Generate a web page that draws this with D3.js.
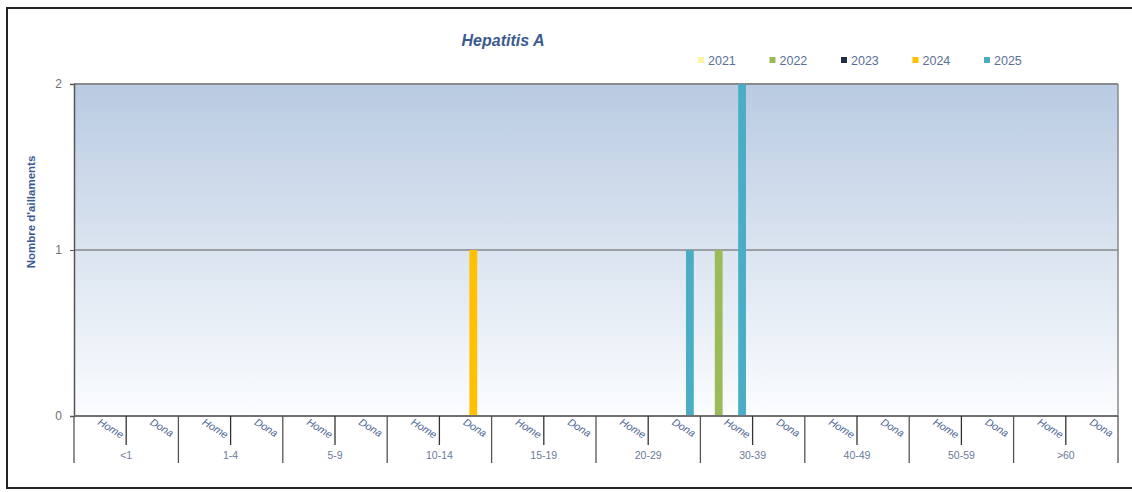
<!DOCTYPE html>
<html>
<head>
<meta charset="utf-8">
<script src="https://cdn.jsdelivr.net/npm/d3@7"></script>
<style>
  html, body { margin: 0; padding: 0; background: #fff; }
  svg { display: block; font-family: "Liberation Sans", Arial, sans-serif; }
</style>
</head>
<body>
<svg id="chart" width="1132" height="492"></svg>
<script>
const title = "Hepatitis A";
const yLabel = "Nombre d'aillaments";
const ageGroups = ["<1", "1-4", "5-9", "10-14", "15-19", "20-29", "30-39", "40-49", "50-59", ">60"];
const sexes = ["Home", "Dona"];
const years = ["2021", "2022", "2023", "2024", "2025"];
const yTicks = [0, 1, 2];
// values per category, order: (<1 Home, <1 Dona, 1-4 Home, 1-4 Dona, ...)
const v2021 = [0,0, 0,0, 0,0, 0,0, 0,0, 0,0, 0,0, 0,0, 0,0, 0,0];
const v2022 = [0,0, 0,0, 0,0, 0,0, 0,0, 0,0, 1,0, 0,0, 0,0, 0,0];
const v2023 = [0,0, 0,0, 0,0, 0,0, 0,0, 0,0, 0,0, 0,0, 0,0, 0,0];
const v2024 = [0,0, 0,0, 0,0, 0,1, 0,0, 0,0, 0,0, 0,0, 0,0, 0,0];
const v2025 = [0,0, 0,0, 0,0, 0,0, 0,0, 0,1, 2,0, 0,0, 0,0, 0,0];
const seriesValues = [v2021, v2022, v2023, v2024, v2025];
const colors = ["#f7f7a6", "#9bbb59", "#1f2f45", "#ffc000", "#4bacc6"];

(function () {
const categories = [];
ageGroups.forEach(g => sexes.forEach(s => categories.push({ id: g + "|" + s, group: g, sex: s })));

const svg = d3.select("#chart");
const pL = 74, pR = 1118, pT = 84, pB = 416;

// outer frame
svg.append("rect").attr("x", 7).attr("y", 8).attr("width", 1140).attr("height", 480)
  .attr("fill", "none").attr("stroke", "#222").attr("stroke-width", 2);

const x0 = d3.scaleBand().domain(categories.map(c => c.id)).range([pL, pR]).padding(0);
const x1 = d3.scaleBand().domain(years).range([0, x0.bandwidth()]).paddingInner(0).paddingOuter(0.85);
const y = d3.scaleLinear().domain([0, 2]).range([pB, pT]);

// gradient background
const defs = svg.append("defs");
const grad = defs.append("linearGradient").attr("id", "bg").attr("x1", 0).attr("y1", 0).attr("x2", 0).attr("y2", 1);
grad.append("stop").attr("offset", "0%").attr("stop-color", "#b9cbe2");
grad.append("stop").attr("offset", "50%").attr("stop-color", "#dbe4f0");
grad.append("stop").attr("offset", "100%").attr("stop-color", "#fbfdff");
svg.append("rect").attr("x", pL).attr("y", pT).attr("width", pR - pL).attr("height", pB - pT)
  .attr("fill", "url(#bg)");

// gridlines
svg.append("g").selectAll("line").data(yTicks.filter(t => t > 0)).join("line")
  .attr("x1", pL).attr("x2", pR).attr("y1", d => y(d)).attr("y2", d => y(d))
  .attr("stroke", d => d === 2 ? "#8a8a8a" : "#5a5a5a").attr("stroke-width", d => d === 2 ? 2 : 1);
// right border
svg.append("line").attr("x1", pR).attr("x2", pR).attr("y1", pT).attr("y2", pB)
  .attr("stroke", "#8a8a8a").attr("stroke-width", 1.5);

// bars
const barData = [];
years.forEach((yr, si) => categories.forEach((c, ci) => {
  const v = seriesValues[si][ci];
  if (v > 0) barData.push({ year: yr, cat: c.id, value: v, color: colors[si] });
}));
svg.append("g").selectAll("rect").data(barData).join("rect")
  .attr("x", d => x0(d.cat) + x1(d.year))
  .attr("y", d => y(d.value))
  .attr("width", x1.bandwidth())
  .attr("height", d => y(0) - y(d.value))
  .attr("fill", d => d.color);

// y axis
const yAxis = svg.append("g").attr("transform", `translate(${pL},0)`)
  .call(d3.axisLeft(y).tickValues(yTicks).tickFormat(d3.format("d")).tickSize(4).tickPadding(8));
yAxis.select(".domain").attr("stroke", "#555").attr("stroke-width", 1.5);
yAxis.selectAll(".tick line").attr("stroke", "#555");
yAxis.selectAll(".tick text").attr("fill", "#707070").attr("font-size", 12)
  .attr("font-family", "Liberation Sans, Arial, sans-serif");

// x axis baseline
svg.append("line").attr("x1", pL).attr("x2", pR).attr("y1", pB).attr("y2", pB)
  .attr("stroke", "#707070").attr("stroke-width", 2);

// x axis ticks: inner (between sexes) and group separators
const xg = svg.append("g");
categories.forEach((c, i) => {
  const xs = x0(c.id);
  const isGroupStart = c.sex === sexes[0];
  xg.append("line").attr("x1", xs).attr("x2", xs).attr("y1", pB)
    .attr("y2", isGroupStart ? 463 : 445)
    .attr("stroke", isGroupStart ? "#555" : "#333").attr("stroke-width", 1.3);
});
xg.append("line").attr("x1", pR).attr("x2", pR).attr("y1", pB).attr("y2", 463)
  .attr("stroke", "#555").attr("stroke-width", 1.3);

// inner labels (rotated)
xg.selectAll("text.sex").data(categories).join("text").attr("class", "sex")
  .attr("transform", d => `translate(${x0(d.id) + x0.bandwidth() / 2 - 3},${pB + 8}) rotate(32)`)
  .attr("font-size", 10.5).attr("fill", "#4a6494").attr("font-style", "italic")
  .text(d => d.sex);

// group labels
xg.selectAll("text.grp").data(ageGroups).join("text").attr("class", "grp")
  .attr("x", g => x0(g + "|" + sexes[0]) + x0.bandwidth())
  .attr("y", 459).attr("text-anchor", "middle")
  .attr("font-size", 10.5).attr("fill", "#6a7a98")
  .text(g => g);

// title
svg.append("text").attr("x", 503).attr("y", 46).attr("text-anchor", "middle")
  .attr("font-size", 16).attr("font-weight", "bold").attr("font-style", "italic")
  .attr("fill", "#3b5a92").text(title);

// y label
svg.append("text").attr("transform", "translate(35,212) rotate(-90)")
  .attr("text-anchor", "middle").attr("font-size", 11.5).attr("font-weight", "bold")
  .attr("fill", "#3b5a92").text(yLabel);

// legend
const legend = svg.append("g").selectAll("g").data(years).join("g")
  .attr("transform", (d, i) => `translate(${698 + i * 71.5},60)`);
legend.append("rect").attr("x", 0).attr("y", -3).attr("width", 6).attr("height", 6)
  .attr("fill", (d, i) => colors[i]);
legend.append("text").attr("x", 10).attr("y", 4.5).attr("font-size", 12.5)
  .attr("fill", "#5a6f96").text(d => d);
})();
</script>
</body>
</html>
